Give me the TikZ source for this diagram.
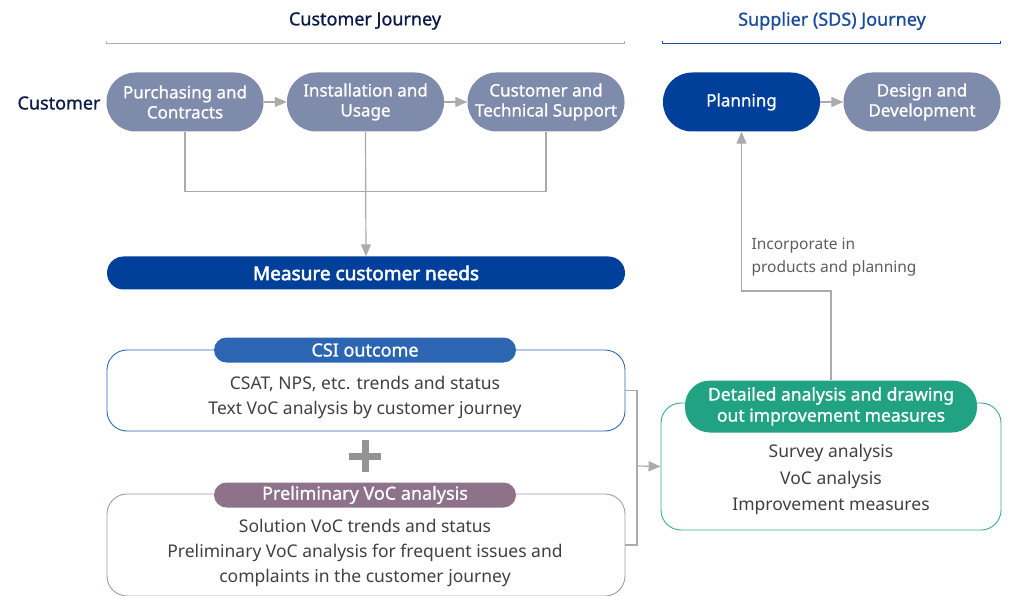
\documentclass[tikz,border=0pt]{standalone}
\usepackage{fontspec}
\setmainfont{Noto Sans}
\newfontfamily\semibf{Noto Sans}[FakeBold=1]
\newfontfamily\heavybf{Noto Sans}[FakeBold=2.5]
\usetikzlibrary{arrows.meta}
\definecolor{jnavy}{HTML}{0C1A48}
\definecolor{stagegray}{HTML}{7F8BAB}
\definecolor{sdsblue}{HTML}{00409A}
\definecolor{suptitle}{HTML}{1A4C9C}
\definecolor{csiblue}{HTML}{2C66B2}
\definecolor{vocpurple}{HTML}{8D7289}
\definecolor{detgreen}{HTML}{21A283}
\definecolor{conngray}{HTML}{ABABAB}
\definecolor{bodytext}{HTML}{404040}

\begin{document}
\begin{tikzpicture}[x=1pt,y=-1pt,
 stage/.style={fill=stagegray,text=white,rounded corners=29pt,minimum width=157pt,minimum height=59pt,inner sep=0pt,align=center,font=\semibf\fontsize{17}{20}\selectfont},
 tag/.style={text=white,rounded corners=12.5pt,minimum width=302pt,minimum height=25pt,inner sep=0pt,align=center,font=\semibf\fontsize{18}{21}\selectfont},
 frame/.style={draw,line width=0.9pt,rounded corners=20pt,inner sep=0pt},
 body/.style={text=bodytext,align=center,font=\fontsize{17.5}{25}\selectfont},
 conn/.style={draw=conngray,line width=1.2pt},
 tip/.style={-{Triangle[width=10pt,length=12pt]}}]
\useasboundingbox(0,0)rectangle(1010,596);
% journey headers
\node[text=jnavy,font=\semibf\fontsize{18}{21}\selectfont](cjt)at(365,21){Customer Journey};
\node[text=suptitle,font=\semibf\fontsize{18}{21}\selectfont](sjt)at(832,21){Supplier (SDS) Journey};
\coordinate(cl)at(106,43);\coordinate(cr)at(625,43);\coordinate(sl)at(662,43);\coordinate(sr)at(1001,43);
\draw[{Bar[width=3pt]}-{Bar[width=3pt]},draw=stagegray!70,line width=0.8pt](cl)--(cr);
\draw[{Bar[width=3pt]}-{Bar[width=3pt]},draw=suptitle,line width=0.9pt](sl)--(sr);
% stages
\node[text=jnavy,font=\semibf\fontsize{18}{21}\selectfont](cust)at(59,103){Customer};
\node[stage](p1)at(185,102){Purchasing and\\Contracts};
\node[stage](p2)at(365.5,102){Installation and\\Usage};
\node[stage](p3)at(546,102){Customer and\\Technical Support};
\node[stage,fill=sdsblue](plan)at(741.5,102){Planning};
\node[stage](dev)at(922,102){Design and\\Development};
\draw[conn,tip](p1)--(p2);\draw[conn,tip](p2)--(p3);\draw[conn,tip](plan)--(dev);
% measure
\node[fill=sdsblue,text=white,rounded corners=16.5pt,minimum width=518pt,minimum height=33pt,inner sep=0pt,font=\heavybf\fontsize{19}{22}\selectfont](meas)at(366,273){Measure customer needs};
\draw[conn](p1.south)--++(0,60)-|(p3.south);
\draw[conn,tip](p2.south)--(meas.north);
% CSI and VoC boxes
\node[frame,draw=csiblue,minimum width=518pt,minimum height=81pt](csi)at(366,390.5){};
\node[tag,fill=csiblue](csit)at(365,350){CSI outcome};
\node[body](csib)at(365,397.5){CSAT, NPS, etc. trends and status\\Text VoC analysis by customer journey};
\draw[line width=7pt,draw=gray!85](349,456)--(381,456)(365,440)--(365,472);
\node[frame,draw=vocpurple!75,minimum width=518pt,minimum height=102pt](voc)at(366,545){};
\node[tag,fill=vocpurple](voct)at(365,495){Preliminary VoC analysis};
\node[body](vocb)at(365,553){Solution VoC trends and status\\Preliminary VoC analysis for frequent issues and\\complaints in the customer journey};
% detailed analysis
\node[frame,draw=detgreen!90,minimum width=340pt,minimum height=127pt](det)at(831,466.5){};
\node[tag,fill=detgreen,minimum width=292pt,minimum height=52pt,rounded corners=25pt,font=\semibf\fontsize{17.5}{21}\selectfont](dett)at(831,406.5){Detailed analysis and drawing\\out improvement measures};
\node[body,font=\fontsize{17.5}{26.5}\selectfont](detb)at(831,479.5){Survey analysis\\VoC analysis\\Improvement measures};
\coordinate(mid)at(637,466);
\draw[conn](csi.east)-|(mid)|-(voc.east);
\draw[conn,tip](mid)--(det.west);
\coordinate(turn)at(741.5,291);
\draw[conn,tip](dett.north)|-(turn)--(plan.south);
\node[anchor=west,text=bodytext!85,align=left,font=\fontsize{15.5}{23}\selectfont](inc)at(748,257){Incorporate in\\products and planning};
\end{tikzpicture}
\end{document}
